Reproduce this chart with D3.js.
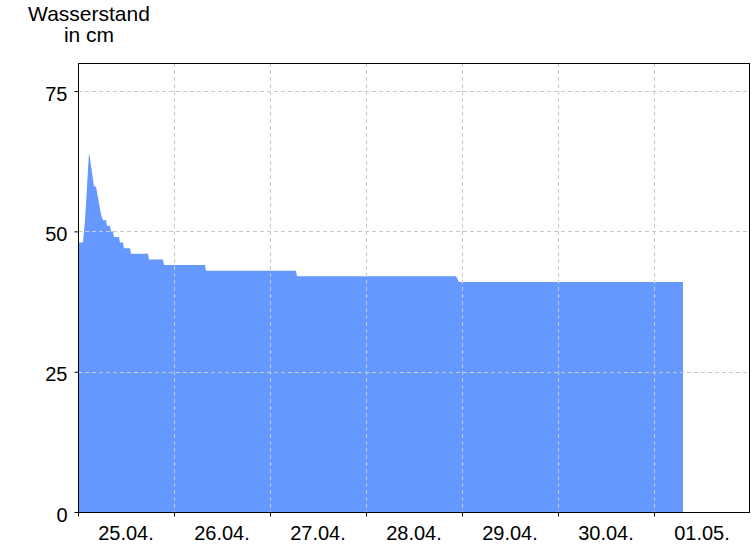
<!DOCTYPE html>
<html>
<head>
<meta charset="utf-8">
<script src="https://cdn.jsdelivr.net/npm/d3@7"></script>
<style>
  body { margin: 0; background: #fff; }
  svg { display: block; }
</style>
</head>
<body>
<div id="chart"></div>
<script>
// Pegel, Zeitpunkte (15-min Raster) und Wasserstand in cm
var times = [
    "2024-04-25 00:00", "2024-04-25 01:15", "2024-04-25 01:45", "2024-04-25 02:45",
    "2024-04-25 03:00", "2024-04-25 04:00", "2024-04-25 04:30", "2024-04-25 05:45",
    "2024-04-25 06:15", "2024-04-25 07:00", "2024-04-25 07:15", "2024-04-25 08:00",
    "2024-04-25 08:15", "2024-04-25 08:45", "2024-04-25 09:00", "2024-04-25 10:15",
    "2024-04-25 10:30", "2024-04-25 11:15", "2024-04-25 11:30", "2024-04-25 13:00",
    "2024-04-25 13:15", "2024-04-25 17:30", "2024-04-25 17:45", "2024-04-25 21:15",
    "2024-04-25 21:30", "2024-04-26 07:45", "2024-04-26 08:00", "2024-04-27 06:30",
    "2024-04-27 06:45", "2024-04-28 22:30", "2024-04-28 23:15", "2024-05-01 07:15"
];
var levels = [
    48, 48, 52, 64,
    63, 58, 58, 53,
    52, 52, 51, 51,
    50, 50, 49, 49,
    48, 48, 47, 47,
    46, 46, 45, 45,
    44, 44, 43, 43,
    42, 42, 41, 41
];
var yTicks = [0, 25, 50, 75];
var dayStart = "2024-04-25 00:00";
var dayEnd = "2024-05-02 00:00";

var width = 756,
    height = 546,
    margin = {top: 63, right: 6, bottom: 34, left: 78};

var parse = d3.timeParse("%Y-%m-%d %H:%M");
var data = times.map(function(t, i){
    return {t: parse(t), v: levels[i]};
});

var svg = d3.select("#chart").append("svg")
    .attr("width", width)
    .attr("height", height);

var x = d3.scaleTime()
    .domain([parse(dayStart), parse(dayEnd)])
    .range([margin.left, width - margin.right]);

var y = d3.scaleLinear()
    .domain([0, 80])
    .range([height - margin.bottom, margin.top]);

var days = d3.timeDay.range(parse(dayStart), parse(dayEnd));
var midnights = days.slice(1);

// fläche
var area = d3.area()
    .x(function(d){ return x(d.t); })
    .y0(y(0))
    .y1(function(d){ return y(d.v); });

svg.append("path")
    .datum(data)
    .attr("d", area)
    .style("fill", "#6699ff");

// gitter
svg.append("g")
    .selectAll("line")
    .data(yTicks.slice(1)).enter()
    .append("line")
    .attr("x1", margin.left)
    .attr("x2", width - margin.right)
    .attr("y1", function(d){ return Math.round(y(d)) + 0.5; })
    .attr("y2", function(d){ return Math.round(y(d)) + 0.5; })
    .style("stroke", "#c8c8c8")
    .style("stroke-dasharray", "4,3");

svg.append("g")
    .selectAll("line")
    .data(midnights).enter()
    .append("line")
    .attr("x1", function(d){ return Math.round(x(d)) + 0.5; })
    .attr("x2", function(d){ return Math.round(x(d)) + 0.5; })
    .attr("y1", margin.top)
    .attr("y2", height - margin.bottom)
    .style("stroke", "#c8c8c8")
    .style("stroke-dasharray", "4,3");

// rahmen
svg.append("rect")
    .attr("x", margin.left + 0.5)
    .attr("y", margin.top + 0.5)
    .attr("width", width - margin.left - margin.right - 1)
    .attr("height", height - margin.top - margin.bottom)
    .style("fill", "none")
    .style("stroke", "#000");

// achsen
var yAxis = d3.axisLeft(y)
    .tickValues(yTicks)
    .tickSize(4)
    .tickPadding(7);

var xAxis = d3.axisBottom(x)
    .tickValues(days)
    .tickSize(4)
    .tickFormat("");

svg.append("g")
    .attr("transform", "translate(" + (margin.left + 0.5) + ",0)")
    .call(yAxis)
    .call(function(g){ g.select(".domain").remove(); })
    .selectAll("text")
    .attr("dy", "0.45em")
    .attr("font-family", "Liberation Sans, Arial, sans-serif")
    .attr("font-size", "20px")
    .attr("fill", "#000");

svg.append("g")
    .attr("transform", "translate(0," + (height - margin.bottom + 0.5) + ")")
    .call(xAxis)
    .call(function(g){ g.select(".domain").remove(); });

var fmt = d3.timeFormat("%d.%m.");
svg.append("g")
    .selectAll("text")
    .data(days).enter()
    .append("text")
    .attr("x", function(d){ return x(d3.timeHour.offset(d, 12)); })
    .attr("y", 540)
    .attr("text-anchor", "middle")
    .attr("font-family", "Liberation Sans, Arial, sans-serif")
    .attr("font-size", "20px")
    .text(function(d){ return fmt(d); });

// titel
svg.append("text")
    .attr("x", 89)
    .attr("y", 21)
    .attr("text-anchor", "middle")
    .attr("font-family", "Liberation Sans, Arial, sans-serif")
    .attr("font-size", "21px")
    .text("Wasserstand");

svg.append("text")
    .attr("x", 89)
    .attr("y", 42)
    .attr("text-anchor", "middle")
    .attr("font-family", "Liberation Sans, Arial, sans-serif")
    .attr("font-size", "21px")
    .text("in cm");
</script>
</body>
</html>
